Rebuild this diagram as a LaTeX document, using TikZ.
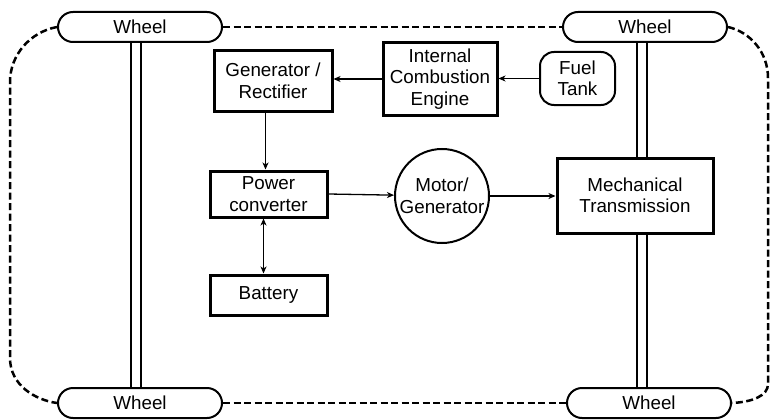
\documentclass[tikz,border=0pt]{standalone}
\usepackage{fontspec}
\setmainfont{Liberation Sans}
\usetikzlibrary{shapes.misc,arrows.meta}
\begin{document}
\begin{tikzpicture}[x=1pt,y=-1pt,
  every node/.style={font=\fontsize{18.8}{21.5}\selectfont, align=center, inner sep=0pt},
  wheel/.style={draw, rounded rectangle, line width=2pt, minimum width=164pt, minimum height=30pt, fill=white},
  blk/.style={draw, rectangle, line width=3pt, fill=white},
  arr/.style={line width=1.3pt, -{Stealth[length=7pt,width=6pt,inset=2pt]}},
  darr/.style={line width=1.3pt, {Stealth[length=7pt,width=6pt,inset=2pt]}-{Stealth[length=7pt,width=6pt,inset=2pt]}},
  border/.style={line width=2.5pt, dash pattern=on 7pt off 3.5pt},
  axle/.style={line width=2pt}
]
\useasboundingbox (0,0) rectangle (771,420);

% wheels
\node[wheel] (TL) at (140,27) {Wheel};
\node[wheel] (TR) at (645,27) {Wheel};
\node[wheel] (BL) at (140,403) {Wheel};
\node[wheel] (BR) at (649,403) {Wheel};

% blocks
\node[blk, minimum width=118pt, minimum height=60pt] (Gen) at (273,81) {Generator /\\Rectifier};
\node[blk, minimum width=114pt, minimum height=72pt] (ICE) at (440,79) {Internal\\Combustion\\Engine};
\node[draw, rounded corners=14pt, line width=2pt, minimum width=75pt, minimum height=53pt] (Fuel) at (577.5,78.5) {Fuel\\Tank};
\node[blk, minimum width=117pt, minimum height=46pt] (PC) at (268.5,194) {Power\\converter};
\node[blk, minimum width=117pt, minimum height=40pt] (Bat) at (268.5,295) {Battery};
\node[draw, circle, line width=2pt, minimum size=94pt] (Mot) at (442,196) {Motor/\\Generator};
\node[blk, minimum width=156pt, minimum height=75pt] (MT) at (635,195.5) {Mechanical\\Transmission};

% dashed vehicle outline
\draw[border] (TL.east) -- (TR.west);
\draw[border] (BL.east) -- (BR.west);
\draw[border] (TL.west) .. controls (30,32) and (10,55) .. (10,82) -- (10,358) .. controls (10,385) and (35,400) .. (BL.west);
\draw[border] (TR.east) .. controls (750,32) and (768,52) .. (768,78) -- (768,384) .. controls (768,396) and (752,402) .. (BR.east);

% axles
\draw[axle] ([xshift=-9pt]TL.south) -- ([xshift=-9pt]BL.north);
\draw[axle] ([xshift=1pt]TL.south) -- ([xshift=1pt]BL.north);
\draw[axle] ([xshift=2pt]MT.north |- TR.south) -- ([xshift=2pt]MT.north);
\draw[line width=2.6pt] ([xshift=12pt]MT.north |- TR.south) -- ([xshift=12pt]MT.north);
\draw[axle] ([xshift=2pt]MT.south) -- ([xshift=2pt]MT.south |- BR.north);
\draw[line width=2.6pt] ([xshift=12pt]MT.south) -- ([xshift=12pt]MT.south |- BR.north);

% flows
\draw[arr] (Fuel.west) -- (Fuel.west -| ICE.east);
\draw[arr] (ICE.west) -- (ICE.west -| Gen.east);
\draw[arr] ([xshift=-3pt]PC.north |- Gen.south) -- ([xshift=-3pt]PC.north);
\draw[darr] ([xshift=-5pt]PC.south) -- ([xshift=-5pt]Bat.north);
\draw[arr] (PC.east) -- (Mot);
\draw[arr] (Mot.east) -- (Mot.east -| MT.west);
\end{tikzpicture}
\end{document}
